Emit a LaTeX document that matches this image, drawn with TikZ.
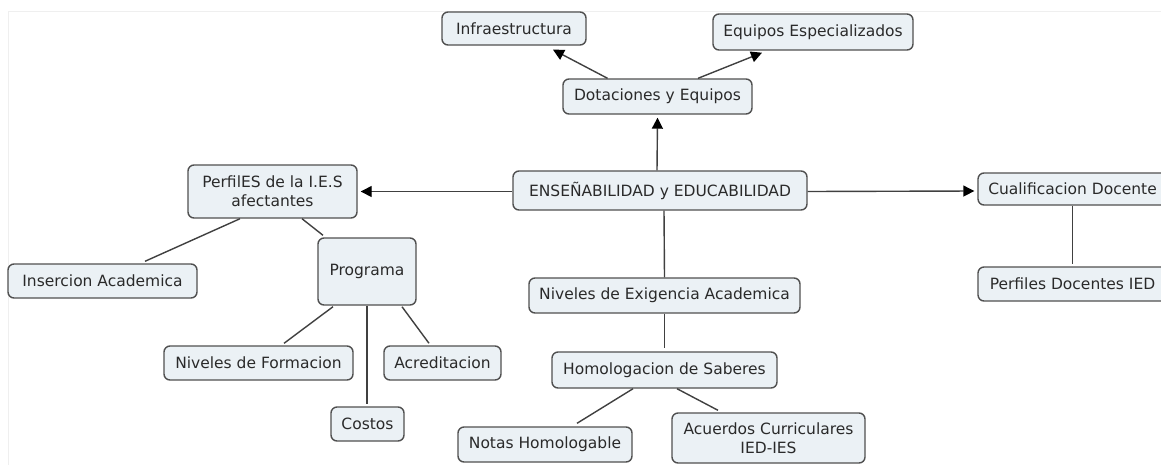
\documentclass[tikz,border=0pt]{standalone}
\usepackage{fontspec}
\setmainfont{DejaVu Sans}
\usetikzlibrary{arrows.meta}
\definecolor{boxfill}{HTML}{EBF1F5}
\definecolor{boxline}{HTML}{505050}
\definecolor{txt}{HTML}{2A2A2A}
\definecolor{conn}{HTML}{404040}
\definecolor{frame}{HTML}{EFEFEF}
\tikzset{
  concept/.style={draw=boxline, line width=1.4pt, fill=boxfill, rounded corners=6pt,
    inner sep=0pt, align=center, text=txt,
    font=\fontsize{15.5}{19}\selectfont},
  link/.style={draw=conn, line width=1.4pt},
  arrowlink/.style={link, -{Triangle[length=11pt,width=11pt,fill=black,color=black]}},
}
\begin{document}
\begin{tikzpicture}[x=1pt,y=-1pt]
\useasboundingbox (0,0) rectangle (1161,464);
\clip (0,0) rectangle (1161,464);
\fill[white] (0,0) rectangle (1161,464);
\draw[frame, line width=1pt] (8,470) -- (8,11) -- (1170,11);

\node[concept, minimum width=144pt, minimum height=33pt] (inf) at (514,28.5) {Infraestructura};
\node[concept, minimum width=200pt, minimum height=36pt] (eq) at (813,32) {Equipos Especializados};
\node[concept, minimum width=189pt, minimum height=35pt] (dot) at (657.5,96.5) {Dotaciones y Equipos};
\node[concept, minimum width=294pt, minimum height=39pt] (ens) at (660,190.5) {ENSEÑABILIDAD y EDUCABILIDAD};
\node[concept, minimum width=189pt, minimum height=32pt] (cual) at (1072.5,189) {Cualificacion Docente};
\node[concept, minimum width=189pt, minimum height=34pt] (pd) at (1072.5,284) {Perfiles Docentes IED};
\node[concept, minimum width=169pt, minimum height=53pt] (perf) at (272.5,191.5) {PerfilES de la I.E.S\\afectantes};
\node[concept, minimum width=189pt, minimum height=34pt] (ins) at (102.5,281) {Insercion Academica};
\node[concept, minimum width=98pt, minimum height=67pt] (prog) at (367,271.5) {Programa};
\node[concept, minimum width=189pt, minimum height=34pt] (nf) at (258.5,363) {Niveles de Formacion};
\node[concept, minimum width=117pt, minimum height=34pt] (acr) at (442.5,363) {Acreditacion};
\node[concept, minimum width=73pt, minimum height=34pt] (cos) at (367.5,424) {Costos};
\node[concept, minimum width=271pt, minimum height=35pt] (ne) at (664.5,295.5) {Niveles de Exigencia Academica};
\node[concept, minimum width=225pt, minimum height=36pt] (ho) at (664.5,370) {Homologacion de Saberes};
\node[concept, minimum width=174pt, minimum height=35pt] (no) at (545,444.5) {Notas Homologable};
\node[concept, minimum width=193pt, minimum height=50pt] (ac) at (768.5,438) {Acuerdos Curriculares\\IED-IES};

% arrows
\draw[arrowlink] ([xshift=-50pt]dot.north) -- ([xshift=39pt,yshift=-4pt]inf.south);
\draw[arrowlink] ([xshift=40.5pt]dot.north) -- ([xshift=-51pt,yshift=-2pt]eq.south);
\draw[arrowlink] ([xshift=-3pt]ens.north) -- ([xshift=0pt,yshift=-3pt]dot.south);
\draw[arrowlink] ([yshift=-1pt]ens.west) -- ([xshift=3pt]perf.east);
\draw[arrowlink] ([yshift=-1pt]ens.east) -- ([xshift=-3pt,yshift=-2pt]cual.west);

% plain links
\draw[link] ([xshift=-32.5pt]perf.south) -- ([xshift=42.5pt,yshift=2pt]ins.north);
\draw[link] ([xshift=29.5pt]perf.south) -- ([xshift=-44pt,yshift=2pt]prog.north);
\draw[link] ([xshift=-34pt,yshift=-1pt]prog.south) -- ([xshift=25.5pt,yshift=2pt]nf.north);
\draw[link] ([xshift=0pt]prog.south) -- ([xshift=-0.5pt,yshift=2pt]cos.north);
\draw[link] ([xshift=35pt,yshift=-1pt]prog.south) -- ([xshift=-13.5pt,yshift=2pt]acr.north);
\draw[link] ([xshift=4pt]ens.south) -- ([yshift=0pt]ne.north);
\draw[link] (ne.south) -- ([yshift=3pt]ho.north);
\draw[link] ([xshift=-31.5pt]ho.south) -- ([xshift=32pt,yshift=3pt]no.north);
\draw[link] ([xshift=12.5pt]ho.south) -- ([xshift=-50.5pt,yshift=2pt]ac.north);
\draw[link] (cual.south) -- ([yshift=2pt]pd.north);
\end{tikzpicture}
\end{document}
